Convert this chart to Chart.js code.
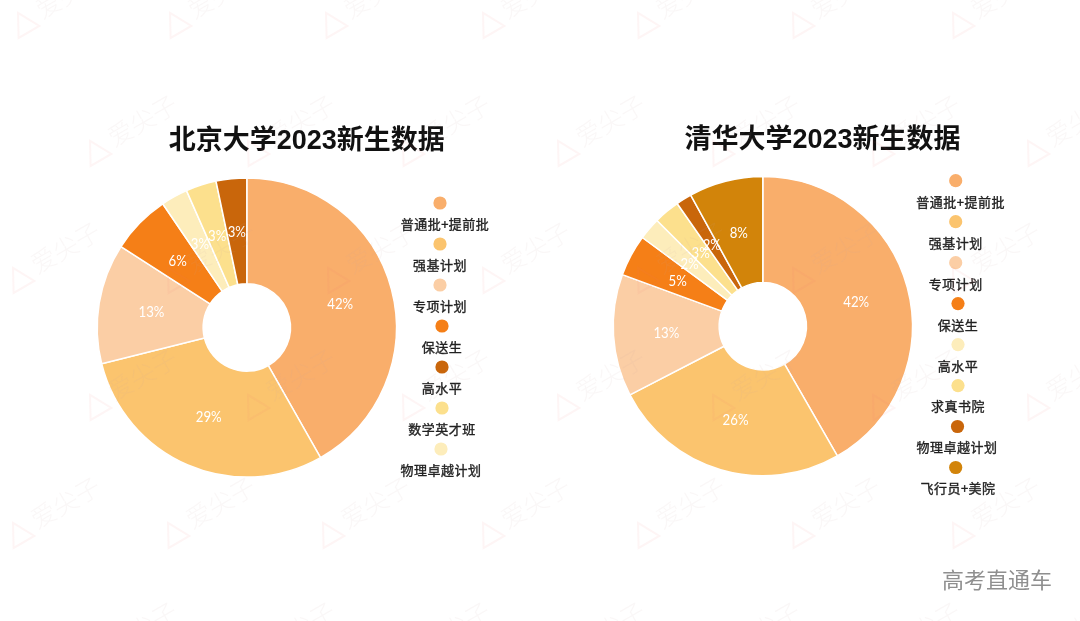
<!DOCTYPE html>
<html lang="zh"><head><meta charset="utf-8">
<script src="https://cdn.jsdelivr.net/npm/chart.js@4"></script>
<style>
html,body{margin:0;padding:0;background:#fff;width:1080px;height:621px;overflow:hidden}
canvas{position:absolute}
#wm{position:absolute;left:0;top:0;width:1080px;height:621px;pointer-events:none;overflow:hidden}
.mark{position:absolute;width:120px;height:60px;transform:rotate(-30deg);transform-origin:0 30px;color:rgba(205,170,170,.09);font:300 25px/60px "Noto Sans CJK SC";white-space:nowrap}
.mark span{position:absolute;left:18px;top:-7px}
.mark svg{position:absolute;left:-15px;top:13px}
#brand{position:absolute;left:942px;top:563px;font:400 22px/30px "Noto Sans CJK SC";color:#8f8f8f}
</style></head><body>
<canvas id="pk" style="left:0;top:0"></canvas>
<canvas id="th" style="left:565px;top:0"></canvas>
<div id="wm"></div>
<div id="brand">高考直通车</div>
<script>
// ---- data ----
const pkuTitle = "北京大学2023新生数据";
const pkuSliceNames = ["普通批+提前批","强基计划","专项计划","保送生","物理卓越计划","数学英才班","高水平"];
const pkuValues = [41.8,29.3,13.0,6.4,2.9,3.3,3.3];
const pkuLegendNames = ["普通批+提前批","强基计划","专项计划","保送生","高水平","数学英才班","物理卓越计划"];

const thuTitle = "清华大学2023新生数据";
const thuSliceNames = ["普通批+提前批","强基计划","专项计划","保送生","高水平","求真书院","物理卓越计划","飞行员+美院"];
const thuValues = [41.7,25.7,13.2,4.5,2.4,2.8,1.7,8.0];
const thuLegendNames = thuSliceNames;

// ---- styles ----
const pkuColors = {"普通批+提前批":"#F9AE6B","强基计划":"#FBC46E","专项计划":"#FBCEA5","保送生":"#F57F17","高水平":"#C9660B","数学英才班":"#FCE08D","物理卓越计划":"#FDEDBB"};
const thuColors = {"普通批+提前批":"#F9AE6B","强基计划":"#FBC46E","专项计划":"#FBCEA5","保送生":"#F57F17","高水平":"#FDEDBB","求真书院":"#FCE08D","物理卓越计划":"#C9660B","飞行员+美院":"#D2840A"};

const pkuLegendLayout = {top:203,step:41,markerX:[440,440,440,442,442,442,441],textX:[445,440,440,442,442,442,441]};
const thuLegendLayout = {top:180.7,step:40.97,markerX:[955.7,955.7,955.7,958,958,958,957.5,955.7],textX:[960.7,955.7,955.7,958,958,958,957,958]};

const sliceLabels = {
  id:'sliceLabels',
  afterDatasetsDraw(c){
    const ctx=c.ctx, ds=c.data.datasets[0];
    c.getDatasetMeta(0).data.forEach((arc,i)=>{
      const p=arc.getCenterPoint();
      ctx.save();
      ctx.fillStyle='#fff';ctx.font='14.5px Lato, "Liberation Sans"';ctx.textAlign='center';ctx.textBaseline='middle';
      ctx.translate(p.x,p.y+1);ctx.scale(0.91,1);
      ctx.fillText(Math.round(ds.data[i])+'%',0,0);
      ctx.restore();
    });
  }
};
const stackedLegend = {
  id:'stackedLegend',
  afterDraw(c,args,o){
    const ctx=c.ctx, L=o.layout, x0=o.canvasLeft;
    ctx.save();
    // heading
    ctx.textAlign='center';ctx.textBaseline='middle';ctx.fillStyle='#111';
    ctx.font='bold 27px "Liberation Sans","Noto Sans CJK SC"';
    ctx.fillText(o.title,o.titleX-x0,o.titleY);
    // legend rows
    o.names.forEach((n,i)=>{
      const y=L.top+L.step*i;
      ctx.beginPath();ctx.arc(L.markerX[i]-x0,y,6.6,0,Math.PI*2);ctx.fillStyle=o.colors[n];ctx.fill();
      ctx.fillStyle='#222';ctx.strokeStyle='#222';ctx.lineWidth=0.35;ctx.font='13px "Noto Sans CJK SC"';
      ctx.letterSpacing='0.5px';
      ctx.fillText(n,L.textX[i]-x0,y+21);
      ctx.strokeText(n,L.textX[i]-x0,y+21);
      ctx.letterSpacing='0px';
    });
    ctx.restore();
  }
};

function makeChart(id,w,title,names,values,colors,legendNames,layout,left,pad,titleX,titleY){
  const el=document.getElementById(id);
  el.style.width=w+'px';el.style.height='621px';el.width=w;el.height=621;
  return new Chart(el,{
    type:'doughnut',
    data:{labels:names,datasets:[{data:values,backgroundColor:names.map(n=>colors[n]),borderColor:'#fff',borderWidth:1.5}]},
    options:{
      responsive:false,animation:false,cutout:'29.2%',
      layout:{padding:pad},
      plugins:{
        legend:{display:false},tooltip:{enabled:false},title:{display:false},
        stackedLegend:{title,titleX,titleY,names:legendNames,colors,layout,canvasLeft:left}
      }
    },
    plugins:[sliceLabels,stackedLegend]
  });
}
makeChart('pk',614,pkuTitle,pkuSliceNames,pkuValues,pkuColors,pkuLegendNames,pkuLegendLayout,0,{top:177.15,left:96.45,right:216.85,bottom:143.15},306.7,142);
makeChart('th',515,thuTitle,thuSliceNames,thuValues,thuColors,thuLegendNames,thuLegendLayout,565,{top:175.85,left:47.45,right:166.85,bottom:144.45},822.5,141);

// ---- watermark ----
const wmRows=[{y:25,xs:[25,177,333,490,645,800,960]},{y:153,xs:[97,255,410,565,720,880,1035]},{y:280,xs:[20,175,335,490,645,800,960]},{y:407,xs:[97,255,410,565,720,880,1035]},{y:535,xs:[20,175,330,490,645,800,960]},{y:660,xs:[97,255,410,565,720,880,1035]}];
const wm=document.getElementById('wm');
wmRows.forEach(r=>r.xs.forEach(x=>{
  const d=document.createElement('div');d.className='mark';
  d.style.left=x+'px';d.style.top=(r.y-30)+'px';
  d.innerHTML='<svg width="30" height="28" viewBox="0 0 30 28"><path d="M15 3 L27 25 L3 25 Z" fill="none" stroke="rgba(245,120,110,.07)" stroke-width="2"/></svg><span>爱尖子</span>';
  wm.appendChild(d);
}));
</script>
</body></html>
